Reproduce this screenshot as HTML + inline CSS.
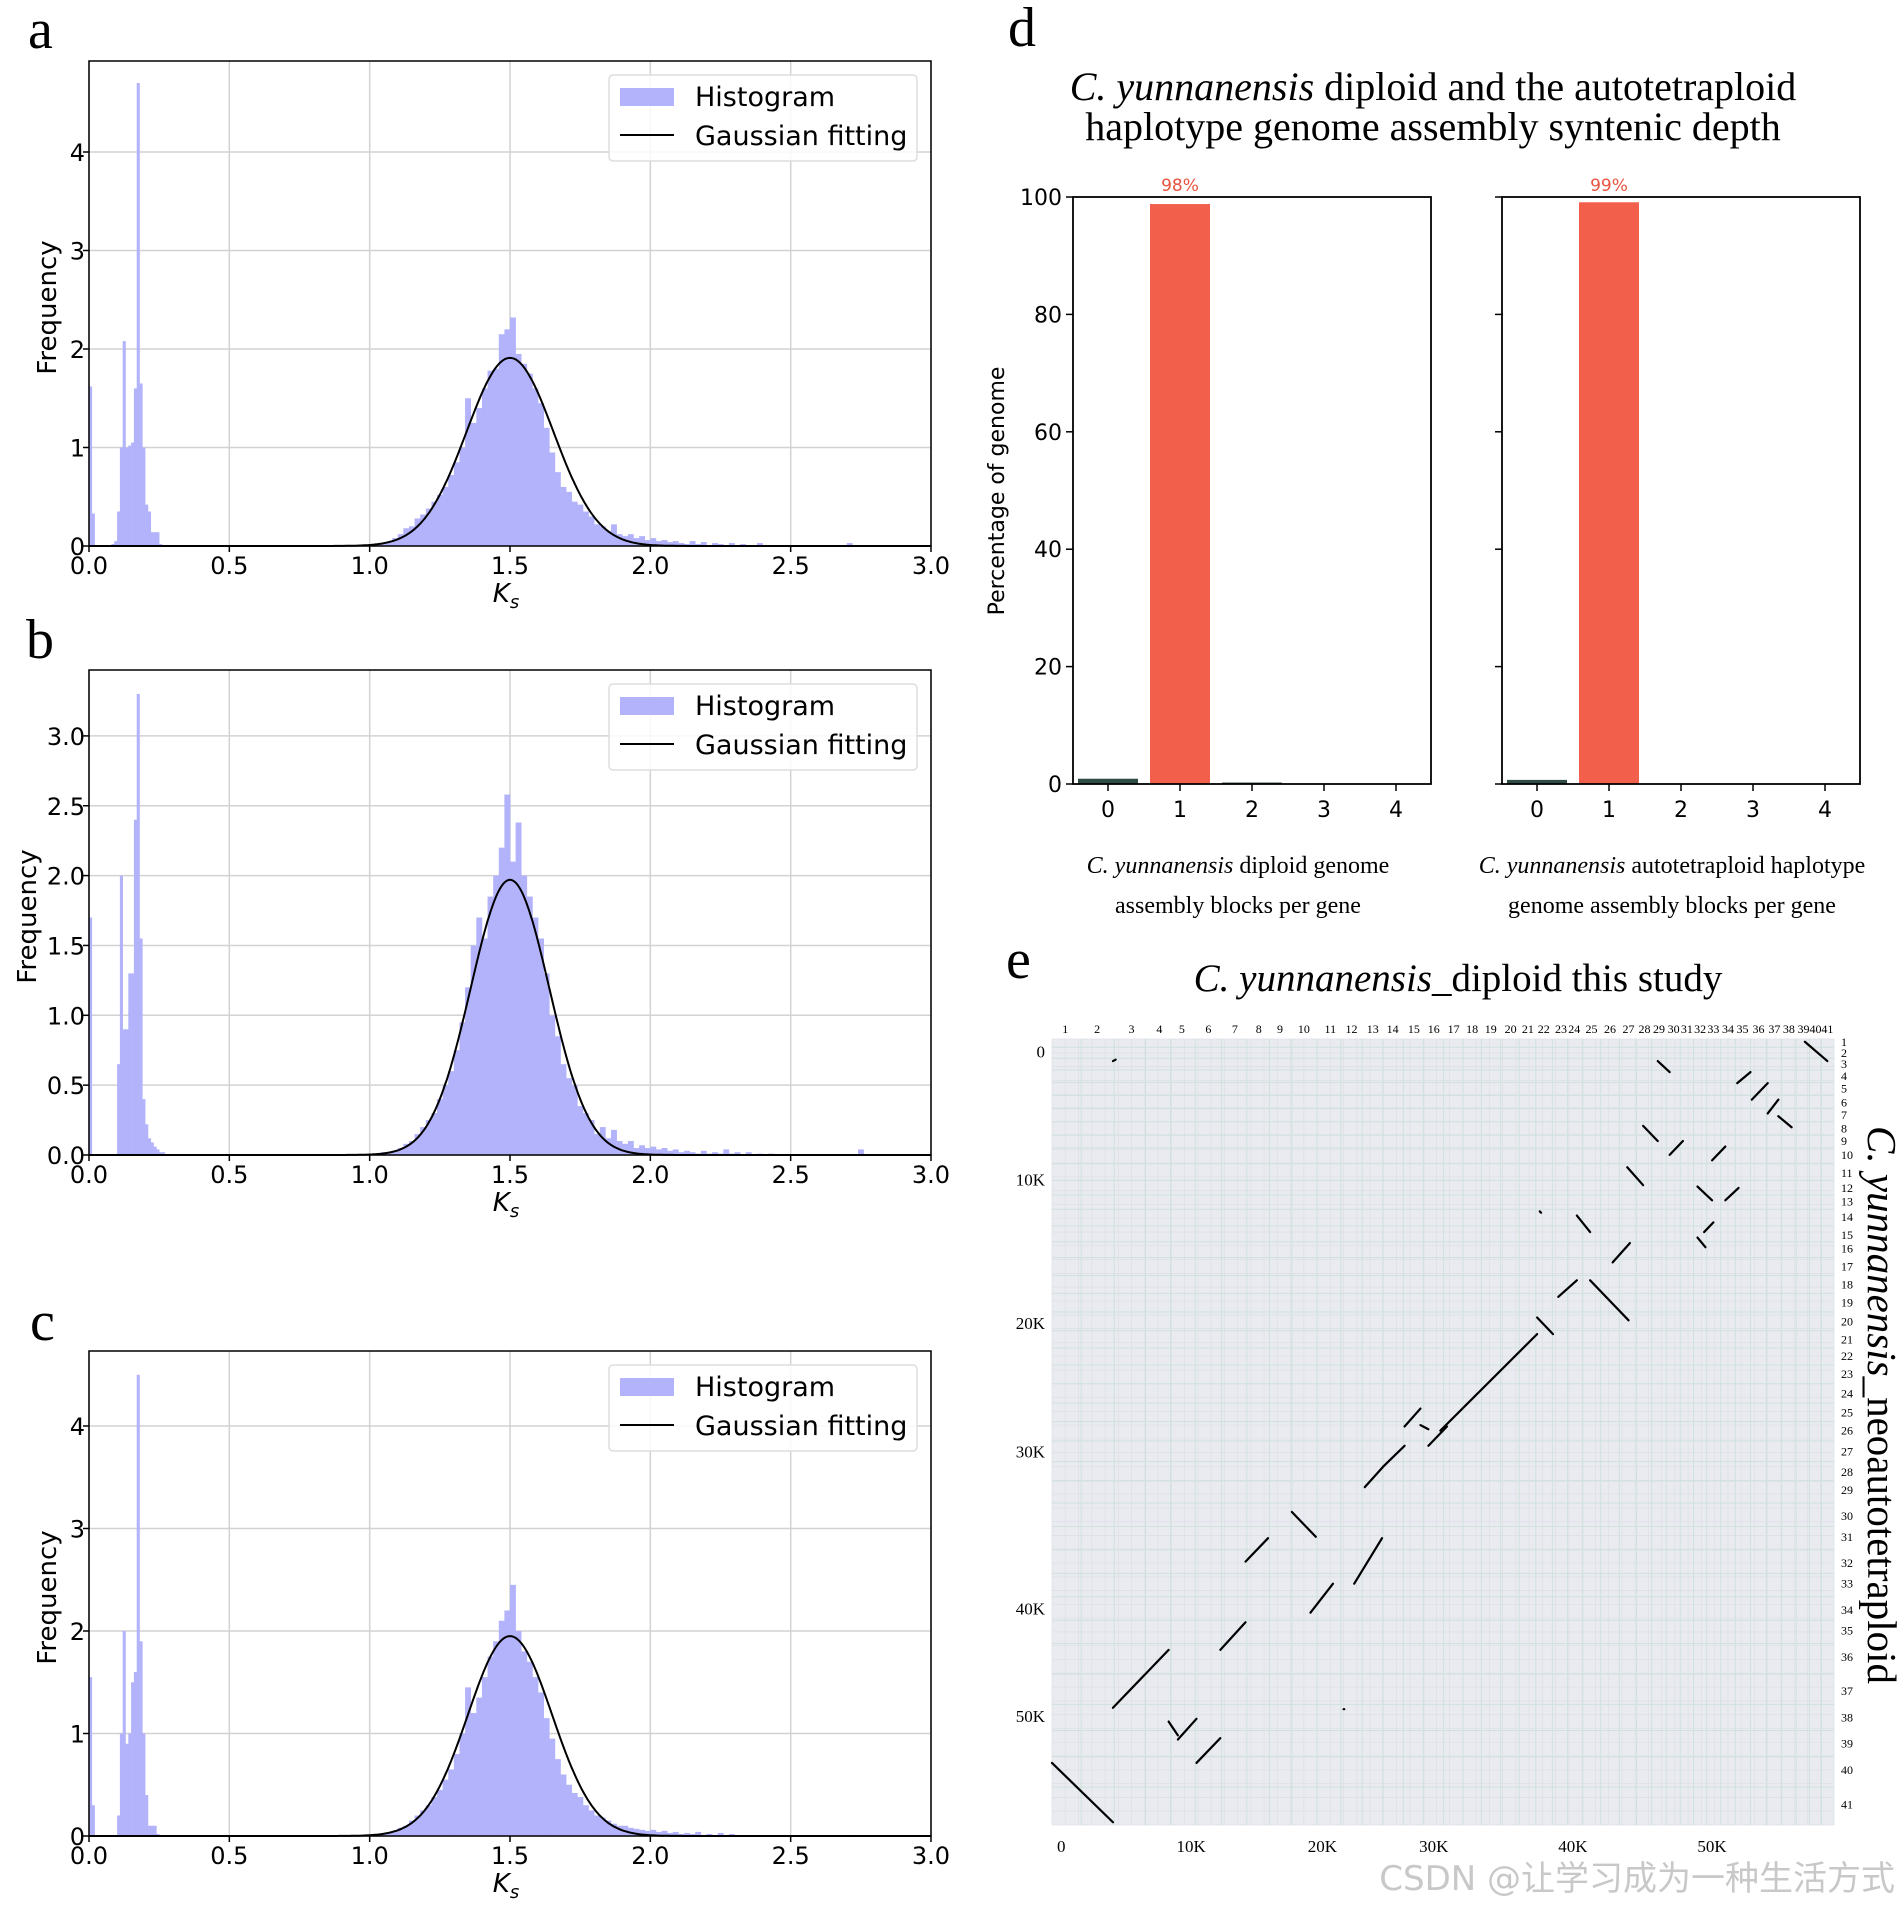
<!DOCTYPE html>
<html><head><meta charset="utf-8"><style>
body{margin:0;background:#fff}
svg{display:block}
.sans{font-family:"DejaVu Sans","Liberation Sans",sans-serif}
.serif{font-family:"Liberation Serif","Noto Serif CJK SC",serif}
</style></head><body>
<svg id="fig" xmlns="http://www.w3.org/2000/svg" width="1900" height="1906" viewBox="0 0 1900 1906">
<rect width="1900" height="1906" fill="#fff"/>
<text x="28" y="48" class="serif" font-size="56">a</text>
<text x="26" y="658" class="serif" font-size="56">b</text>
<text x="30" y="1340" class="serif" font-size="56">c</text>
<text x="1008" y="46" class="serif" font-size="56">d</text>
<text x="1006" y="978" class="serif" font-size="56">e</text>
<text x="1433" y="100" text-anchor="middle" class="serif" font-size="40"><tspan font-style="italic">C. yunnanensis</tspan> diploid and the autotetraploid</text>
<text x="1433" y="140" text-anchor="middle" class="serif" font-size="40">haplotype genome assembly syntenic depth</text>
<text x="1458" y="991" text-anchor="middle" class="serif" font-size="39"><tspan font-style="italic">C. yunnanensis</tspan>_diploid this study</text>
<text x="1238" y="873" text-anchor="middle" class="serif" font-size="24"><tspan font-style="italic">C. yunnanensis</tspan> diploid genome</text>
<text x="1238" y="913" text-anchor="middle" class="serif" font-size="24">assembly blocks per gene</text>
<text x="1672" y="873" text-anchor="middle" class="serif" font-size="24"><tspan font-style="italic">C. yunnanensis</tspan> autotetraploid haplotype</text>
<text x="1672" y="913" text-anchor="middle" class="serif" font-size="24">genome assembly blocks per gene</text>
<text transform="translate(1004,491) rotate(-90)" text-anchor="middle" class="sans" font-size="22">Percentage of genome</text>
<text transform="translate(1868,1405) rotate(90)" text-anchor="middle" class="serif" font-size="41"><tspan font-style="italic">C. yunnanensis</tspan>_neoautotetraploid</text>
<text x="1895" y="1890" text-anchor="end" class="sans" font-size="34" fill="#c8c8c8">CSDN @让学习成为一种生活方式</text>
</svg>
<script>
// ---------- Histogram data (panels a, b, c) ----------
const lowBinWidth = 0.01;
const highStart = 1.0;
const highBinWidth = 0.02;
const histALow = [1.62,0.33,0,0,0,0,0,0,0.02,0.05,0.35,1.0,2.08,1.0,1.02,1.05,1.6,4.7,1.65,1.0,0.42,0.35,0.14,0.14,0.14,0.02];
const histAHigh = [0.01,0.02,0.03,0.05,0.08,0.12,0.18,0.2,0.28,0.32,0.38,0.45,0.52,0.6,0.72,0.85,1.0,1.5,1.25,1.4,1.6,1.78,1.8,2.15,2.2,2.32,1.95,1.85,1.75,1.6,1.45,1.2,0.95,0.75,0.6,0.55,0.45,0.42,0.35,0.3,0.22,0.2,0.15,0.22,0.12,0.1,0.12,0.08,0.1,0.06,0.08,0.05,0.06,0.04,0.05,0.03,0.02,0.05,0.02,0.04,0.01,0.03,0.02,0.01,0.03,0.01,0.02,0.01,0,0.03,0,0.01,0,0,0,0,0,0,0,0,0,0,0,0,0,0.03,0,0,0.01,0];
const histBLow = [1.7,0,0,0,0,0,0,0,0,0,0.65,2.0,0.9,0.9,1.3,1.3,2.4,3.3,1.55,0.4,0.22,0.12,0.09,0.06,0.04,0.02,0.02];
const histBHigh = [0.01,0.01,0.02,0.02,0.03,0.05,0.08,0.1,0.15,0.2,0.25,0.3,0.4,0.5,0.6,0.75,0.95,1.2,1.5,1.7,1.55,1.85,2.0,2.2,2.58,2.1,2.38,2.0,1.85,1.7,1.55,1.3,1.0,0.85,0.65,0.55,0.5,0.35,0.3,0.25,0.15,0.2,0.12,0.18,0.1,0.08,0.1,0.05,0.07,0.05,0.06,0.04,0.05,0.03,0.04,0.02,0.03,0.02,0.01,0.03,0.01,0.02,0.01,0.04,0.01,0.02,0,0.02,0,0.01,0,0.01,0,0,0,0,0,0,0,0,0,0,0,0,0,0,0,0.04,0,0];
const histCLow = [1.55,0.3,0,0,0,0,0,0,0,0,0.2,1.0,2.0,0.9,1.0,1.5,1.6,4.5,1.9,1.0,0.4,0.1,0.1,0.1,0.02];
const histCHigh = [0.01,0.01,0.02,0.03,0.05,0.08,0.1,0.15,0.2,0.25,0.3,0.38,0.45,0.55,0.65,0.8,1.0,1.45,1.2,1.35,1.55,1.75,1.9,2.1,2.2,2.45,2.0,1.8,1.7,1.55,1.4,1.15,0.95,0.75,0.6,0.5,0.42,0.38,0.3,0.25,0.2,0.18,0.15,0.12,0.1,0.1,0.08,0.07,0.06,0.05,0.06,0.04,0.05,0.03,0.04,0.02,0.03,0.02,0.04,0.01,0.02,0.01,0.03,0.01,0.02,0,0.01,0,0.01,0,0,0,0,0,0,0,0,0,0,0,0,0,0,0,0,0.01,0,0,0,0];
const gaussMu = [1.5,1.5,1.5];
const gaussSigma = [0.155,0.14,0.15];
const gaussAmp = [1.91,1.97,1.95];
const xTicks = [0,0.5,1.0,1.5,2.0,2.5,3.0];
const yTicksA = [0,1,2,3,4];
const yTicksB = [0,0.5,1.0,1.5,2.0,2.5,3.0];
const yTicksC = [0,1,2,3,4];

// ---------- Bar chart data (panel d) ----------
const barCategories = [0,1,2,3,4];
const barLeftValues = [0.9,98.8,0.25,0.05,0.05];
const barRightValues = [0.7,99.1,0.05,0.05,0.05];
const barLeftLabel = "98%";
const barRightLabel = "99%";
const barYTicks = [0,20,40,60,80,100];

// ---------- Dotplot data (panel e), units: K genes ----------
const dotXTickLabels = ["0","10K","20K","30K","40K","50K"];
const dotXTickValues = [0.7,10.5,20.4,28.8,39.3,49.8];
const dotYTickLabels = ["0","10K","20K","30K","40K","50K"];
const dotYTickValues = [0.9,10.2,20.6,29.9,41.3,49.1];
const chrTopPos = [1.0,3.4,6.0,8.1,9.8,11.8,13.8,15.6,17.2,19.0,21.0,22.6,24.2,25.7,27.3,28.8,30.3,31.7,33.1,34.6,35.9,37.1,38.4,39.4,40.7,42.1,43.5,44.7,45.8,46.9,47.9,48.9,49.9,51.0,52.1,53.3,54.5,55.6,56.7,57.6,58.5];
const chrRightPos = [0.2,1.0,1.8,2.7,3.6,4.6,5.5,6.5,7.4,8.4,9.7,10.8,11.8,12.9,14.2,15.2,16.5,17.8,19.1,20.5,21.8,23.0,24.3,25.7,27.1,28.4,29.9,31.4,32.7,34.6,36.1,38.0,39.5,41.4,42.9,44.8,47.3,49.2,51.1,53.0,55.5];
const segX1 = [56.8,4.6,45.7,51.7,52.8,54.0,54.8,44.6,46.6,49.8,43.4,48.7,50.8,36.8,39.6,48.7,49.2,42.3,40.6,38.2,41.8,36.6,29.3,26.6,27.8,28.4,25.0,23.6,18.1,14.6,22.8,19.5,12.7,4.6,8.8,9.5,10.9,22.0,0];
const segY1 = [0.2,1.6,1.6,3.2,4.4,5.4,5.6,6.3,8.4,8.8,9.3,10.7,11.7,12.5,12.8,14.4,14.0,16.2,17.5,18.7,18.7,20.2,28.4,28.1,28.0,29.5,31.0,32.5,34.3,37.9,39.5,41.6,44.3,48.5,49.5,50.8,52.5,48.6,52.5];
const segX2 = [58.5,4.8,46.6,52.7,54.0,54.8,55.8,45.7,47.6,50.8,44.6,49.8,51.8,36.9,40.6,49.3,49.9,43.6,41.8,39.6,43.5,37.8,36.6,27.8,28.4,29.8,26.6,25.0,19.9,16.3,24.9,21.2,14.6,8.8,9.5,10.9,12.7,22.05,4.6];
const segY2 = [1.6,1.5,2.4,2.4,3.2,4.4,6.4,7.4,7.4,7.8,10.6,11.7,10.8,12.6,14.0,15.1,13.3,14.8,18.7,17.5,20.4,21.4,21.4,26.8,28.3,28.1,29.5,31.0,36.1,36.2,36.2,39.5,42.3,44.3,50.5,49.3,50.7,48.6,56.8];

const svg = document.getElementById('fig');
const NS = 'http://www.w3.org/2000/svg';
function mk(tag, attrs, parent){const e=document.createElementNS(NS,tag);for(const k in attrs)e.setAttribute(k,attrs[k]);(parent||svg).appendChild(e);return e;}

// ---------- Histogram panels ----------
const panels = [
 {id:'a',low:histALow,high:histAHigh,yt:yTicksA,fmt:v=>String(v),top:61,y0:546,ppu:98.5,gi:0},
 {id:'b',low:histBLow,high:histBHigh,yt:yTicksB,fmt:v=>v.toFixed(1),top:670,y0:1155,ppu:139.7,gi:1},
 {id:'c',low:histCLow,high:histCHigh,yt:yTicksC,fmt:v=>String(v),top:1351,y0:1836,ppu:102.5,gi:2}
];
const PL=89, PR=931;
panels.forEach(p=>{
  const g = mk('g',{});
  
  
  const sx = v => PL + v/3*(PR-PL);
  const sy = v => p.y0 - v*p.ppu;
  xTicks.forEach(t=>{ const l=mk('line',{x1:sx(t),x2:sx(t),y1:p.top,y2:p.y0,stroke:'#d2d2d2','stroke-width':1.5},g);
      });
  p.yt.forEach(t=>{ const l=mk('line',{x1:PL,x2:PR,y1:sy(t),y2:sy(t),stroke:'#d2d2d2','stroke-width':1.5},g);
      });
  const drawBins=(arr,start,w)=>arr.forEach((v,i)=>{ if(v<=0) return;
    const x=sx(start+i*w), x2=sx(start+(i+1)*w);
    const r=mk('rect',{x:x,y:sy(v),width:x2-x+0.3,height:v*p.ppu,fill:'#b3b3fb'},g);
      });
  drawBins(p.low,0,lowBinWidth);
  drawBins(p.high,highStart,highBinWidth);
  const mu=gaussMu[p.gi], s=gaussSigma[p.gi], A=gaussAmp[p.gi];
  let d='';
  for(let i=0;i<=600;i++){const x=i*0.005;const y=A*Math.exp(-(x-mu)*(x-mu)/(2*s*s));d+=(i?'L':'M')+sx(x).toFixed(1)+' '+sy(y).toFixed(1);}
  const gp=mk('path',{d:d,fill:'none',stroke:'#000','stroke-width':2},g);
   
  const fr=mk('rect',{x:PL,y:p.top,width:PR-PL,height:p.y0-p.top,fill:'none',stroke:'#000','stroke-width':1.5},g);
   
  xTicks.forEach(t=>{ mk('line',{x1:sx(t),x2:sx(t),y1:p.y0,y2:p.y0+6,stroke:'#000','stroke-width':1.5},g);
    const tx=mk('text',{x:sx(t),y:p.y0+28,'text-anchor':'middle','font-size':24,class:'sans'},g); tx.textContent=t.toFixed(1);
      });
  p.yt.forEach(t=>{ mk('line',{x1:PL-6,x2:PL,y1:sy(t),y2:sy(t),stroke:'#000','stroke-width':1.5},g);
    const tx=mk('text',{x:PL-4,y:sy(t)+9,'text-anchor':'end','font-size':24,class:'sans'},g); tx.textContent=p.fmt(t);
      });
  const xl=mk('text',{x:(PL+PR)/2-4,y:p.y0+56,'text-anchor':'middle','font-size':26,'font-style':'italic',class:'sans'},g);
  xl.innerHTML='K<tspan font-size="18" dy="6">s</tspan>';
   
  const ylab=mk('text',{transform:`translate(${p.id==='b'?36:56},${(p.top+p.y0)/2+4}) rotate(-90)`,'text-anchor':'middle','font-size':26,class:'sans'},g);
  ylab.textContent='Frequency';
   
  const lg=mk('g',{},g);
   
  mk('rect',{x:609,y:p.top+14,width:308,height:86,rx:4,fill:'#fff','fill-opacity':0.85,stroke:'#ddd','stroke-width':1.5},lg);
  mk('rect',{x:620,y:p.top+27,width:54,height:18,fill:'#b3b3fb'},lg);
  mk('line',{x1:620,x2:674,y1:p.top+74,y2:p.top+74,stroke:'#000','stroke-width':2},lg);
  const t1=mk('text',{x:695,y:p.top+45,'font-size':27,class:'sans'},lg); t1.textContent='Histogram';
   
  const t2=mk('text',{x:695,y:p.top+84,'font-size':27,class:'sans'},lg); t2.textContent='Gaussian fitting';
   
});

// ---------- Bar charts (panel d) ----------
const bTop=197, bBot=784;
const byS = v => bBot - v/100*(bBot-bTop);
[{L:1073,vals:barLeftValues,lab:barLeftLabel,side:'left'},{L:1502,vals:barRightValues,lab:barRightLabel,side:'right'}].forEach(c=>{
  const g=mk('g',{});
  
  
  const bx = i => c.L+35+i*72;
  c.vals.forEach((v,i)=>{
    const r=mk('rect',{x:bx(barCategories[i])-30,y:byS(v),width:60,height:bBot-byS(v),fill:i===1?'#f25f4b':'#2e4b46'},g);
     
  });
  const pl=mk('text',{x:bx(1),y:byS(100)-6,'text-anchor':'middle','font-size':17,fill:'#e8533f',class:'sans'},g);
  pl.textContent=c.lab;  
  mk('rect',{x:c.L,y:bTop,width:358,height:bBot-bTop,fill:'none',stroke:'#000','stroke-width':1.8},g);
  barYTicks.forEach(t=>{ mk('line',{x1:c.L-7,x2:c.L,y1:byS(t),y2:byS(t),stroke:'#000','stroke-width':1.5},g);
    if(c.side==='left'){const tx=mk('text',{x:c.L-11,y:byS(t)+8,'text-anchor':'end','font-size':22,class:'sans'},g);tx.textContent=t;
       } });
  barCategories.forEach(cat=>{ mk('line',{x1:bx(cat),x2:bx(cat),y1:bBot,y2:bBot+7,stroke:'#000','stroke-width':1.5},g);
    const tx=mk('text',{x:bx(cat),y:bBot+33,'text-anchor':'middle','font-size':22,class:'sans'},g); tx.textContent=cat;
      });
});

// ---------- Dotplot (panel e) ----------
const DL=1052, DR=1834, DT=1039, DB=1825, XMAX=59, YMAX=57;
const dx = v => DL + v/XMAX*(DR-DL);
const dy = v => DT + v/YMAX*(DB-DT);
const dg=mk('g',{});


mk('rect',{x:DL,y:DT,width:DR-DL,height:DB-DT,fill:'#e9ebf0'},dg);
for(let v=0;v<=XMAX;v+=1){mk('line',{x1:dx(v),x2:dx(v),y1:DT,y2:DB,stroke:'#dde1e7','stroke-width':0.8},dg);}
for(let v=0;v<=YMAX;v+=1){mk('line',{x1:DL,x2:DR,y1:dy(v),y2:dy(v),stroke:'#dde1e7','stroke-width':0.8},dg);}
for(let i=0;i<chrTopPos.length-1;i++){const v=(chrTopPos[i]+chrTopPos[i+1])/2;
  const l=mk('line',{x1:dx(v),x2:dx(v),y1:DT,y2:DB,stroke:'#cfe2dc','stroke-width':1},dg);
   }
for(let i=0;i<chrRightPos.length-1;i++){const v=(chrRightPos[i]+chrRightPos[i+1])/2;
  const l=mk('line',{x1:DL,x2:DR,y1:dy(v),y2:dy(v),stroke:'#cfe2dc','stroke-width':1},dg);
   }
segX1.forEach((x1,i)=>{
  const l=mk('line',{x1:dx(x1),y1:dy(segY1[i]),x2:dx(segX2[i]),y2:dy(segY2[i]),stroke:'#000','stroke-width':2.2,'stroke-linecap':'round'},dg);
   
});
chrTopPos.forEach((v,i)=>{const t=mk('text',{x:dx(v),y:1033,'text-anchor':'middle','font-size':12,class:'serif'},dg);t.textContent=i+1;
   });
chrRightPos.forEach((v,i)=>{const t=mk('text',{x:1841,y:dy(v)+4,'font-size':12,class:'serif'},dg);t.textContent=i+1;
   });
dotXTickLabels.forEach((s,i)=>{const t=mk('text',{x:dx(dotXTickValues[i]),y:1852,'text-anchor':'middle','font-size':17,class:'serif'},dg);t.textContent=s;
   });
dotYTickLabels.forEach((s,i)=>{const t=mk('text',{x:1045,y:dy(dotYTickValues[i])+6,'text-anchor':'end','font-size':17,class:'serif'},dg);t.textContent=s;
   });
</script>
</body></html>
